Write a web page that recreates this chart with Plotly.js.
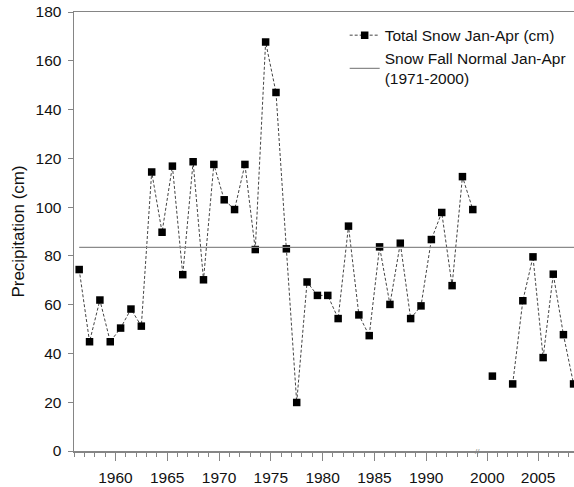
<!DOCTYPE html>
<html>
<head>
<meta charset="utf-8">
<script src="https://cdn.plot.ly/plotly-3.0.1.min.js"></script>
<style>
html,body{margin:0;padding:0;overflow:hidden;background:#fff;}
#chart{width:610px;height:487px;}
</style>
</head>
<body>
<div id="chart"></div>
<script>
// ---- data ----
var years1 = [1956,1957,1958,1959,1960,1961,1962,1963,1964,1965,1966,1967,1968,1969,
              1970,1971,1972,1973,1974,1975,1976,1977,1978,1979,1980,1981,1982,1983,
              1984,1985,1986,1987,1988,1989,1990,1991,1992,1993,1994];
var snow1  = [74.4,44.8,61.9,44.8,50.4,58.2,51.2,114.4,89.7,116.8,72.3,118.6,70.2,117.5,
              103.0,99.0,117.5,82.6,167.7,147.0,82.9,19.9,69.3,63.8,63.8,54.3,92.2,55.8,
              47.3,83.7,60.1,85.2,54.3,59.5,86.7,97.8,67.8,112.5,99.0];
var years2 = [2000,2001,2002,2003,2004,2005,2006,2007,2008];
var snow2  = [30.7,null,27.5,61.6,79.6,38.3,72.5,47.7,27.5];
var normalValue = 83.5;
var seriesName = "Total Snow Jan-Apr (cm)";
var normalName = "Snow Fall Normal Jan-Apr<br>(1971-2000)";
var yTicks = [0,20,40,60,80,100,120,140,160,180];
var xTicks1 = [1960,1965,1970,1975,1980,1985,1990];
var xTicks2 = [2000,2005];

// ---- layout constants ----
var range1 = [1956.0, 1995.0];
var range2 = [1999.08, 2012.09];
var splitFrac = 0.7537;
var FONT = "Liberation Sans, Arial, sans-serif";
var AX = "#858585";

function mid(arr){ return arr.map(function(y){ return y + 0.5; }); }

var lineStyle = {color:"#444", width:1, dash:"3px,2px"};
var markerStyle = {symbol:"square", size:7.5, color:"#000"};

var traces = [
  {x: mid(years1), y: snow1, xaxis:"x", yaxis:"y", type:"scatter", mode:"lines+markers",
   name: seriesName, line: lineStyle, marker: markerStyle, connectgaps:false},
  {x: [years1[0]+0.5, range1[1]], y:[normalValue, normalValue], xaxis:"x", yaxis:"y",
   type:"scatter", mode:"lines", name: normalName, line:{color:"#8a8a8a", width:1.2}},
  {x: mid(years2), y: snow2, xaxis:"x2", yaxis:"y", type:"scatter", mode:"lines+markers",
   name: seriesName, showlegend:false, line: lineStyle, marker: markerStyle, connectgaps:false},
  {x: [range2[0], range2[1]], y:[normalValue, normalValue], xaxis:"x2", yaxis:"y",
   type:"scatter", mode:"lines", name: normalName, showlegend:false,
   line:{color:"#8a8a8a", width:1.2}}
];

var xcommon = {
  showgrid:false, zeroline:false, showline:true, linecolor:AX, linewidth:1.5,
  mirror:true, ticks:"outside", ticklen:8, tickwidth:1, tickcolor:AX,
  ticklabelstandoff:4,
  tickfont:{family:FONT, size:15.5, color:"#111"}, tickmode:"array",
  minor:{ticks:"outside", ticklen:4, tickwidth:1, tickcolor:AX, dtick:1, tick0:1956, showgrid:false}
};

var layout = {
  width:610, height:487,
  margin:{l:74, r:0, t:12, b:36},
  paper_bgcolor:"#fff", plot_bgcolor:"#fff",
  font:{family:FONT, color:"#111"},
  showlegend:true,
  legend:{x:0.505, y:0.985, xanchor:"left", yanchor:"top", bgcolor:"rgba(0,0,0,0)",
          font:{family:FONT, size:15.5, color:"#111"}, tracegroupgap:6},
  xaxis: Object.assign({}, xcommon, {domain:[0, splitFrac], range:range1, tickvals:xTicks1, anchor:"y"}),
  xaxis2: Object.assign({}, xcommon, {domain:[splitFrac, 1], range:range2, tickvals:xTicks2, anchor:"y",
          minor:Object.assign({}, xcommon.minor, {tick0:2000})}),
  yaxis: {range:[0,180], tickvals:yTicks, showgrid:false, zeroline:false, showline:true,
          linecolor:AX, linewidth:1.5, ticks:"outside", ticklen:5, tickwidth:1, tickcolor:AX,
          ticklabelstandoff:3,
          tickfont:{family:FONT, size:15.5, color:"#111"},
          title:{text:"Precipitation (cm)", font:{family:FONT, size:17, color:"#111"}, standoff:6}},
  annotations:[
    {xref:"paper", yref:"paper", x:splitFrac, y:0, text:"//", showarrow:false,
     font:{family:FONT, size:8, color:"#888"}, xanchor:"center", yanchor:"middle"}
  ]
};

Plotly.newPlot("chart", traces, layout, {displayModeBar:false, staticPlot:true});
</script>
</body>
</html>
